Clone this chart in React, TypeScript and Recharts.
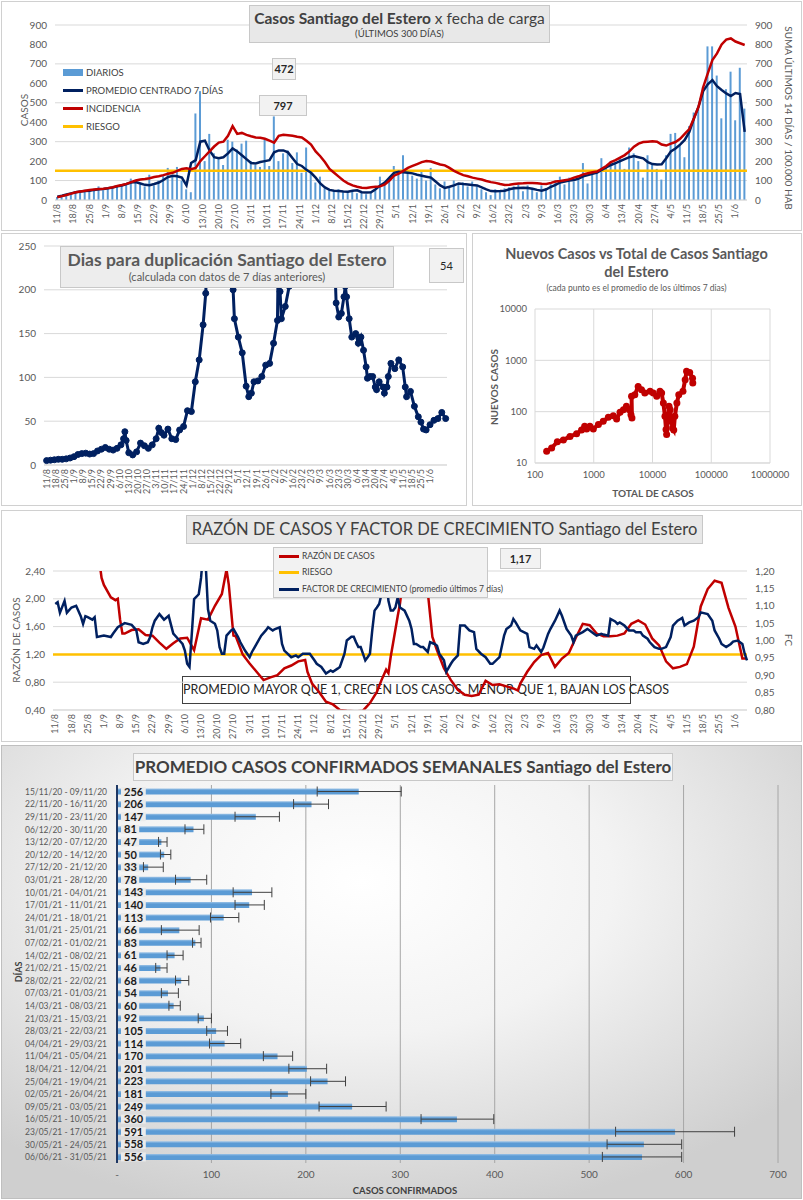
import React from 'react';
import {
  ComposedChart,
  LineChart,
  ScatterChart,
  BarChart,
  Bar,
  Line,
  Scatter,
  XAxis,
  YAxis,
  CartesianGrid,
  ReferenceLine,
  ErrorBar,
  LabelList,
} from 'recharts';

const FONT = 'Lato, "Open Sans", sans-serif';
const NAVY = '#002060';
const RED = '#C00000';
const YELLOW = '#FFC000';
const BLUE = '#5B9BD5';
const GRID = '#D9D9D9';
const TXT = '#595959';

// weekly tick labels shared by the three time charts (day 0 = 11/8)
const weekLabels = ['11/8', '18/8', '25/8', '1/9', '8/9', '15/9', '22/9', '29/9', '6/10', '13/10', '20/10', '27/10', '3/11', '10/11', '17/11', '24/11', '1/12', '8/12', '15/12', '22/12', '29/12', '5/1', '12/1', '19/1', '26/1', '2/2', '9/2', '16/2', '23/2', '2/3', '9/3', '16/3', '23/3', '30/3', '6/4', '13/4', '20/4', '27/4', '4/5', '11/5', '18/5', '25/5', '1/6'];
const weekTicks = weekLabels.map((_, i) => i * 7);

// top chart, one reading every 2 days from 11/8
const diarios = [
  15, 20, 25, 35, 40, 45, 50, 45, 55, 70,
  50, 65, 60, 75, 80, 85, 110, 95, 80, 70,
  130, 75, 100, 130, 165, 120, 170, 100, 55, 40,
  445, 560, 200, 340, 240, 210, 180, 310, 300, 260,
  290, 305, 200, 180, 170, 310, 175, 430, 200, 240,
  255, 190, 245, 140, 270, 145, 90, 120, 60, 50,
  45, 55, 40, 45, 50, 35, 40, 30, 45, 50,
  120, 95, 110, 175, 150, 230, 140, 125, 110, 150,
  100, 165, 80, 60, 95, 70, 100, 85, 90, 70,
  95, 70, 55, 40, 25, 55, 50, 60, 65, 70,
  80, 45, 75, 60, 40, 75, 60, 90, 100, 120,
  80, 115, 95, 110, 190, 85, 145, 150, 215, 170,
  200, 185, 220, 160, 270, 240, 200, 115, 230, 180,
  160, 105, 230, 340, 345, 280, 220, 380, 450, 470,
  580, 790, 790, 640, 420, 570, 660, 410, 680, 470,
];
const promedio7 = [
  17, 22, 28, 34, 40, 44, 46, 48, 52, 55,
  57, 60, 64, 70, 75, 82, 90, 92, 85, 78,
  76, 82, 90, 103, 118, 125, 122, 115, 75, 190,
  205, 300, 305, 255, 220, 215, 220, 240, 265, 250,
  230, 210, 190, 188, 195, 200, 205, 245, 255, 255,
  245, 215, 185, 175, 155, 140, 115, 85, 65, 52,
  48, 46, 44, 43, 48, 50, 40, 38, 40, 55,
  75, 90, 115, 140, 145, 143, 140, 137, 130, 125,
  120, 115, 95, 75, 62, 68, 75, 85, 82, 80,
  77, 75, 65, 55, 46, 45, 46, 48, 55, 60,
  62, 63, 62, 58, 52, 48, 55, 68, 78, 90,
  95, 100, 103, 110, 122, 128, 135, 141, 155, 168,
  180, 190, 200, 210, 220, 226, 220, 214, 195, 185,
  182, 184, 215, 250, 265, 285, 309, 350, 420, 480,
  560, 595, 617, 585, 566, 548, 535, 550, 545, 350,
];
const incidencia = [
  14, 20, 26, 33, 40, 44, 48, 51, 54, 56,
  58, 61, 66, 72, 77, 83, 92, 100, 105, 108,
  112, 118, 122, 128, 135, 140, 150, 160, 163, 158,
  165, 200, 225, 250, 275, 295, 300, 330, 380, 340,
  345, 335, 328, 322, 320, 315, 305, 295, 330, 335,
  333, 330, 325, 322, 305, 285, 250, 225, 195, 160,
  140, 120, 100, 86, 75, 68, 63, 62, 65, 68,
  70, 80, 100, 125, 135, 150, 165, 175, 185, 195,
  200, 198, 190, 183, 178, 165, 150, 138, 128, 122,
  115, 110, 105, 98, 92, 88, 82, 77, 78, 82,
  85, 86, 88, 88, 86, 83, 82, 88, 95, 98,
  102, 106, 115, 122, 132, 138, 143, 146, 160, 175,
  195, 205, 218, 231, 250, 274, 290, 298, 300, 302,
  300, 285, 280, 290, 298, 315, 340, 365, 420, 480,
  580, 651, 720, 754, 800, 825, 831, 815, 806, 797,
];

// doubling days
const dupDays = [0, 3, 6, 9, 12, 15, 18, 21, 24, 27, 30, 33, 36, 39, 42, 45, 48, 51, 54, 57, 59, 60, 61, 63, 66, 69, 72, 75, 78, 81, 84, 86, 88, 90, 93, 96, 99, 102, 105, 108, 111, 114, 117, 120, 122, 124, 128, 134, 140, 143, 144, 147, 150, 153, 155, 157, 159, 162, 165, 168, 171, 174, 177, 178, 179, 180, 183, 186, 188, 195, 205, 215, 220, 222, 224, 226, 228, 229, 230, 232, 234, 237, 239, 241, 243, 245, 246, 248, 250, 252, 253, 255, 258, 259, 261, 262, 264, 267, 270, 273, 275, 276, 279, 282, 285, 287, 289, 291, 294, 297, 300, 303, 306];
const dupValues = [5, 5.5, 6, 6.5, 6.5, 7, 8, 9.5, 12, 13, 13.5, 12.5, 13, 16, 18, 20, 18, 17, 19, 23, 30, 38, 28, 14, 11.5, 15, 25, 22, 19, 23, 30, 42, 37, 34, 41, 30, 29, 40, 44, 62, 61, 95, 120, 160, 196, 270, 330, 380, 300, 200, 167, 146, 128, 90, 78, 82, 95, 96, 101, 114, 116, 139, 165, 280, 198, 167, 181, 204, 280, 340, 380, 320, 270, 185, 169, 173, 192, 204, 192, 167, 146, 150, 139, 146, 131, 112, 99, 101, 101, 89, 86, 95, 89, 82, 89, 101, 116, 110, 120, 112, 89, 78, 84, 67, 55, 49, 41, 40, 46, 51, 53, 60, 53];

// ratio chart
const razonDays = [0, 6, 12, 18, 20, 21, 24, 26, 27, 28, 29, 30, 33, 36, 39, 42, 45, 48, 51, 54, 57, 60, 63, 66, 69, 72, 74, 75, 77, 78, 81, 84, 87, 90, 93, 96, 99, 102, 105, 108, 109, 111, 114, 117, 120, 123, 126, 130, 133, 136, 139, 141, 143, 144, 145, 146, 148, 149, 150, 152, 157, 160, 161, 163, 165, 168, 171, 174, 177, 180, 183, 186, 189, 192, 195, 198, 200, 201, 204, 207, 210, 213, 216, 219, 222, 225, 228, 231, 234, 237, 240, 243, 246, 249, 252, 255, 258, 261, 264, 267, 270, 273, 276, 279, 282, 285, 288, 291, 294, 297, 299];
const razonValues = [3.0, 3.0, 3.0, 2.8, 2.3, 2.2, 2.02, 1.98, 2.0, 1.7, 1.5, 1.5, 1.55, 1.56, 1.48, 1.47, 1.37, 1.28, 1.36, 1.43, 1.44, 1.26, 1.72, 1.7, 1.9, 2.07, 2.42, 2.2, 1.47, 1.46, 1.2, 1.07, 0.95, 0.83, 0.87, 0.9, 1.0, 1.04, 1.1, 1.12, 0.95, 0.78, 0.66, 0.52, 0.48, 0.4, 0.39, 0.38, 0.39, 0.5, 0.66, 0.83, 0.98, 0.93, 1.17, 1.36, 1.75, 1.93, 2.2, 2.8, 3.0, 2.6, 2.1, 1.45, 1.26, 1.0, 0.83, 0.69, 0.62, 0.6, 0.62, 0.82, 0.76, 0.77, 0.74, 0.71, 0.68, 0.78, 0.95, 1.09, 1.19, 1.22, 1.02, 1.14, 1.22, 1.44, 1.64, 1.62, 1.5, 1.46, 1.46, 1.47, 1.5, 1.64, 1.69, 1.63, 1.43, 1.33, 1.1, 1.0, 1.02, 1.06, 1.31, 1.89, 2.14, 2.26, 2.23, 1.87, 1.6, 1.14, 1.14];
const fcDays = [0, 1, 2, 4, 5, 7, 9, 11, 12, 13, 14, 16, 17, 18, 21, 24, 25, 27, 30, 33, 35, 36, 38, 40, 41, 42, 43, 45, 47, 49, 51, 53, 55, 56, 57, 58, 59, 60, 62, 63, 64, 65, 66, 67, 69, 70, 71, 72, 73, 74, 76, 77, 79, 80, 82, 84, 85, 87, 89, 91, 92, 94, 95, 97, 98, 99, 102, 104, 105, 107, 110, 112, 113, 115, 117, 119, 120, 122, 123, 125, 126, 128, 129, 130, 131, 132, 134, 135, 136, 137, 138, 139, 140, 141, 143, 144, 145, 146, 147, 148, 149, 151, 153, 154, 155, 156, 158, 159, 161, 162, 164, 165, 166, 168, 169, 171, 172, 174, 175, 177, 179, 181, 182, 184, 186, 188, 189, 192, 194, 195, 197, 198, 199, 201, 204, 205, 207, 208, 210, 211, 213, 214, 216, 218, 219, 221, 223, 224, 225, 228, 230, 231, 233, 234, 236, 237, 239, 240, 242, 243, 244, 246, 248, 250, 251, 253, 254, 256, 257, 259, 261, 262, 264, 266, 267, 269, 271, 272, 274, 276, 278, 279, 282, 284, 285, 287, 288, 290, 292, 293, 295, 297, 298, 299];
const fcValues = [1.105, 1.11, 1.08, 1.114, 1.08, 1.095, 1.1, 1.07, 1.048, 1.07, 1.067, 1.06, 1.067, 1.01, 1.014, 1.01, 1.02, 1.038, 1.05, 1.045, 1.03, 0.995, 0.99, 0.995, 1.01, 1.038, 1.057, 1.076, 1.06, 1.071, 1.02, 1.005, 0.99, 0.971, 0.933, 0.924, 1.019, 1.119, 1.133, 1.18, 1.26, 1.22, 1.09, 1.057, 1.048, 1.029, 0.981, 0.962, 0.962, 1.014, 1.029, 1.033, 1.01, 0.995, 0.971, 0.952, 0.967, 0.99, 1.014, 1.029, 1.038, 1.029, 1.033, 1.038, 0.99, 0.971, 0.952, 0.957, 0.952, 0.962, 0.962, 0.943, 0.933, 0.924, 0.905, 0.914, 0.91, 0.919, 0.924, 0.962, 1.0, 1.011, 1.011, 0.995, 0.981, 0.981, 0.943, 0.952, 0.962, 1.029, 1.086, 1.095, 1.105, 1.133, 1.19, 1.114, 1.086, 1.086, 1.095, 1.124, 1.095, 1.086, 1.057, 1.033, 0.99, 0.99, 0.981, 0.981, 0.967, 0.995, 0.99, 0.985, 0.962, 0.943, 0.91, 0.933, 0.943, 0.957, 1.043, 1.043, 1.029, 1.024, 0.976, 0.962, 0.952, 0.933, 0.933, 0.952, 1.014, 1.033, 1.043, 1.062, 1.052, 1.029, 1.019, 0.981, 0.976, 0.986, 0.967, 0.98, 1.019, 1.033, 1.057, 1.086, 1.071, 1.033, 1.014, 0.995, 1.014, 1.024, 1.033, 1.029, 1.019, 1.014, 1.019, 1.017, 1.014, 1.062, 1.055, 1.048, 1.052, 1.043, 1.029, 1.029, 1.024, 1.024, 1.014, 1.005, 0.995, 0.981, 0.976, 0.976, 0.981, 1.01, 1.043, 1.057, 1.065, 1.043, 1.052, 1.057, 1.067, 1.081, 1.076, 1.057, 1.029, 1.005, 0.99, 0.981, 0.99, 0.997, 1.0, 0.99, 0.962, 0.943];

// scatter: total cases vs new cases (7 day average)
const scatterTotal = [158, 192, 240, 304, 394, 511, 620, 700, 757, 860, 983, 1200, 1450, 1770, 2150, 2450, 2800, 3200, 3600, 4040, 4300, 4470, 4400, 5000, 5700, 6500, 7400, 9100, 10300, 11800, 13400, 14300, 15300, 16300, 17000, 17400, 18500, 19100, 20000, 21000, 22000, 23000, 24000, 26000, 28000, 33000, 36000, 38000, 43000, 48000, 48500];
const scatterNuevos = [17, 19.6, 26, 28, 33, 37, 44, 52, 46, 52, 46, 56, 65, 78, 83, 72, 97, 109, 127, 109, 87, 75, 200, 214, 310, 268, 230, 250, 230, 200, 250, 230, 147, 81, 45, 36, 81, 127, 109, 65, 48, 44, 81, 147, 214, 250, 420, 610, 580, 450, 360];

// weekly averages
const weekRanges = ['15/11/20 - 09/11/20', '22/11/20 - 16/11/20', '29/11/20 - 23/11/20', '06/12/20 - 30/11/20', '13/12/20 - 07/12/20', '20/12/20 - 14/12/20', '27/12/20 - 21/12/20', '03/01/21 - 28/12/20', '10/01/21 - 04/01/21', '17/01/21 - 11/01/21', '24/01/21 - 18/01/21', '31/01/21 - 25/01/21', '07/02/21 - 01/02/21', '14/02/21 - 08/02/21', '21/02/21 - 15/02/21', '28/02/21 - 22/02/21', '07/03/21 - 01/03/21', '14/03/21 - 08/03/21', '21/03/21 - 15/03/21', '28/03/21 - 22/03/21', '04/04/21 - 29/03/21', '11/04/21 - 05/04/21', '18/04/21 - 12/04/21', '25/04/21 - 19/04/21', '02/05/21 - 26/04/21', '09/05/21 - 03/05/21', '16/05/21 - 10/05/21', '23/05/21 - 17/05/21', '30/05/21 - 24/05/21', '06/06/21 - 31/05/21'];
const weekAvg = [256, 206, 147, 81, 47, 50, 33, 78, 143, 140, 113, 66, 83, 61, 46, 68, 54, 60, 92, 105, 114, 170, 201, 223, 181, 249, 360, 591, 558, 556];
const weekErrLow = [44, 19, 22, 9, 3, 4, 5, 16, 20, 15, 14, 19, 3, 8, 5, 6, 7, 5, 6, 10, 16, 15, 19, 18, 18, 35, 38, 63, 39, 42];
const weekErrHigh = [45, 18, 25, 11, 6, 7, 16, 17, 21, 16, 16, 21, 6, 9, 7, 8, 11, 7, 8, 12, 17, 16, 21, 19, 19, 36, 39, 63, 40, 42];

const topData = diarios.map((v, i) => ({ day: i * 2, diarios: v, promedio: promedio7[i], incidencia: incidencia[i] }));
const dupData = dupDays.map((d, i) => ({ day: d, v: dupValues[i] }));
const razonData = razonDays.map((d, i) => ({ day: d, v: razonValues[i] }));
const fcData = fcDays.map((d, i) => ({ day: d, v: fcValues[i] }));
const scatterData = scatterTotal.map((t, i) => ({ x: t, y: scatterNuevos[i] }));
const weekData = weekRanges.map((r, i) => ({ label: r, avg: weekAvg[i], err: [weekErrLow[i], weekErrHigh[i]] }));

const comma = (v: number) => v.toFixed(2).replace('.', ',');

const DateTick = (props: any) => {
  const { x, y, payload } = props;
  const label = weekLabels[Math.round(payload.value / 7)];
  return (
    <text transform={`translate(${x + 3},${y}) rotate(-90)`} textAnchor="end" fontSize={9} fill={TXT} fontFamily={FONT}>
      {label}
    </text>
  );
};

const CatTick = (props: any) => {
  const { x, y, payload } = props;
  return (
    <text x={x - 2} y={y} dy={3.5} textAnchor="end" fontSize={9.5} fill={TXT} fontFamily={FONT} textLength={82} lengthAdjust="spacingAndGlyphs">
      {payload.value}
    </text>
  );
};

const ValueLabel = (props: any) => {
  const { x, y, height, value } = props;
  const txt = String(value);
  const w = txt.length * 6.6 + 5;
  return (
    <g>
      <rect x={x + 4} y={y - 1.5} width={w} height={height + 3} fill="#EBEBEB" />
      <text x={x + 7} y={y + height / 2 + 4} fontSize={11} fontWeight={700} fill="#1a1a1a" fontFamily={FONT}>
        {txt}
      </text>
    </g>
  );
};

const Abs = ({ x, y, w, h, style, children }: any) => (
  <div style={{ position: 'absolute', left: x, top: y, width: w, height: h, boxSizing: 'border-box', fontFamily: FONT, ...style }}>
    {children}
  </div>
);

const Rot = ({ cx, cy, deg = -90, style, children }: any) => (
  <div style={{ position: 'absolute', left: cx, top: cy, transform: `translate(-50%,-50%) rotate(${deg}deg)`, whiteSpace: 'nowrap', fontFamily: FONT, ...style }}>
    {children}
  </div>
);

const LegendRow = ({ x, y, color, thick, text, size = 9.5 }: any) => (
  <div style={{ position: 'absolute', left: x, top: y - 7, height: 14, display: 'flex', alignItems: 'center', fontFamily: FONT, fontSize: size, color: '#404040', whiteSpace: 'nowrap' }}>
    <span style={{ display: 'inline-block', width: 20, height: thick, background: color, marginRight: 3 }} />
    {text}
  </div>
);

const panelBorder = '1px solid #D0D0D0';
const tickStyle = { fontSize: 10, fill: TXT, fontFamily: FONT };

export default function App() {
  return (
    <div style={{ position: 'absolute', left: 0, top: 0, width: 803, height: 1200, background: '#fff', overflow: 'hidden', fontFamily: FONT }}>
      {/* panel 1: casos diarios */}
      <Abs x={1} y={1} w={801} h={230} style={{ border: panelBorder }} />
      <div style={{ position: 'absolute', left: 0, top: 0 }}>
        <ComposedChart width={803} height={231} data={topData} margin={{ top: 25, right: 0, bottom: 0, left: 0 }}>
          <CartesianGrid vertical={false} stroke={GRID} yAxisId="l" />
          <XAxis dataKey="day" type="number" domain={[-1, 299]} ticks={weekTicks} interval={0} tick={<DateTick />} tickSize={2} height={31} tickLine={false} axisLine={{ stroke: GRID }} />
          <YAxis yAxisId="l" domain={[0, 900]} ticks={[0, 100, 200, 300, 400, 500, 600, 700, 800, 900]} width={55} axisLine={false} tickLine={false} tick={tickStyle} />
          <YAxis yAxisId="r" orientation="right" domain={[0, 900]} ticks={[0, 100, 200, 300, 400, 500, 600, 700, 800, 900]} width={56} axisLine={false} tickLine={false} tick={tickStyle} />
          <Bar yAxisId="l" dataKey="diarios" fill={BLUE} barSize={2} isAnimationActive={false} />
          <ReferenceLine yAxisId="l" y={150} stroke={YELLOW} strokeWidth={2.5} />
          <Line yAxisId="l" dataKey="promedio" stroke={NAVY} strokeWidth={2.5} dot={false} isAnimationActive={false} />
          <Line yAxisId="r" dataKey="incidencia" stroke={RED} strokeWidth={2.5} dot={false} isAnimationActive={false} />
        </ComposedChart>
      </div>
      <Abs x={249} y={5} w={301} h={38} style={{ background: '#E8E8E8', border: '1px solid #C8C8C8', textAlign: 'center', color: '#404040' }}>
        <div style={{ fontSize: 15.5, marginTop: 3, whiteSpace: 'nowrap' }}>
          <b>Casos Santiago del Estero</b> x fecha de carga
        </div>
        <div style={{ fontSize: 9.5, marginTop: 1 }}>(ÚLTIMOS 300 DÍAS)</div>
      </Abs>
      <LegendRow x={63} y={72} color={BLUE} thick={7} text="DIARIOS" />
      <LegendRow x={63} y={90} color={NAVY} thick={3} text="PROMEDIO CENTRADO 7 DÍAS" />
      <LegendRow x={63} y={108} color={RED} thick={3} text="INCIDENCIA" />
      <LegendRow x={63} y={126} color={YELLOW} thick={3} text="RIESGO" />
      <Abs x={272} y={58} w={24} h={22} style={{ background: '#F2F2F2', border: '1px solid #C8C8C8', fontSize: 11, fontWeight: 700, textAlign: 'center', lineHeight: '20px', color: '#262626' }}>472</Abs>
      <Abs x={259} y={95} w={48} h={21} style={{ background: '#F2F2F2', border: '1px solid #C8C8C8', fontSize: 11, fontWeight: 700, textAlign: 'center', lineHeight: '19px', color: '#262626' }}>797</Abs>
      <Rot cx={24} cy={110} style={{ fontSize: 10, color: TXT }}>CASOS</Rot>
      <Rot cx={789} cy={118} deg={90} style={{ fontSize: 10, color: TXT }}>SUMA  ÚLTIMOS 14 DÍAS / 100.000 HAB</Rot>

      {/* panel 2: dias para duplicacion */}
      <Abs x={1} y={233} w={466} h={273} style={{ border: panelBorder }} />
      <div style={{ position: 'absolute', left: 0, top: 232 }}>
        <LineChart width={467} height={274} margin={{ top: 14, right: 20, bottom: 0, left: 0 }}>
          <CartesianGrid vertical={false} stroke={GRID} />
          <XAxis dataKey="day" type="number" domain={[-2, 307]} ticks={weekTicks} interval={0} tick={<DateTick />} tickSize={2} height={41} tickLine={false} axisLine={{ stroke: GRID }} allowDuplicatedCategory={false} />
          <YAxis domain={[0, 250]} ticks={[0, 50, 100, 150, 200, 250]} width={44} axisLine={false} tickLine={false} tick={tickStyle} allowDataOverflow />
          <Line data={dupData} dataKey="v" stroke={NAVY} strokeWidth={3} dot={{ r: 3, fill: NAVY, stroke: NAVY, strokeWidth: 1 }} isAnimationActive={false} />
        </LineChart>
      </div>
      <Abs x={60} y={246} w={334} h={42} style={{ background: '#EDEDED', border: '1px solid #C8C8C8', textAlign: 'center', color: '#595959' }}>
        <div style={{ fontSize: 17.5, fontWeight: 700, marginTop: 2, whiteSpace: 'nowrap' }}>Dias para duplicación Santiago del Estero</div>
        <div style={{ fontSize: 11, marginTop: 0 }}>(calculada con datos de 7 días anteriores)</div>
      </Abs>
      <Abs x={429} y={248} w={35} h={35} style={{ background: '#F2F2F2', border: '1px solid #C8C8C8', fontSize: 11, textAlign: 'center', lineHeight: '33px', color: '#262626' }}>54</Abs>

      {/* panel 3: nuevos vs total */}
      <Abs x={472} y={233} w={330} h={273} style={{ border: panelBorder }} />
      <div style={{ position: 'absolute', left: 470, top: 232 }}>
        <ScatterChart width={333} height={274} margin={{ top: 77, right: 33, bottom: 0, left: 0 }}>
          <CartesianGrid stroke={GRID} />
          <XAxis dataKey="x" type="number" scale="log" domain={[100, 1000000]} ticks={[100, 1000, 10000, 100000, 1000000]} interval={0} height={43} tickLine={false} axisLine={{ stroke: GRID }} tick={{ fontSize: 9.5, fill: TXT, fontFamily: FONT }} allowDataOverflow />
          <YAxis dataKey="y" type="number" scale="log" domain={[10, 10000]} ticks={[10, 100, 1000, 10000]} interval={0} width={65} tickLine={false} axisLine={false} tick={{ fontSize: 9.5, fill: TXT, fontFamily: FONT }} allowDataOverflow />
          <Scatter data={scatterData} fill={RED} line={{ stroke: RED, strokeWidth: 4 }} shape={(p: any) => <circle cx={p.cx} cy={p.cy} r={3.5} fill={RED} />} isAnimationActive={false} />
        </ScatterChart>
      </div>
      <Abs x={470} y={245} w={333} h={60} style={{ textAlign: 'center', color: '#595959' }}>
        <div style={{ fontSize: 14.5, fontWeight: 700, lineHeight: '18px' }}>Nuevos Casos vs Total de Casos Santiago</div>
        <div style={{ fontSize: 14.5, fontWeight: 700, lineHeight: '18px' }}>del Estero</div>
        <div style={{ fontSize: 8.5, lineHeight: '12px', marginTop: 1 }}>(cada punto es el promedio de los últimos 7 dias)</div>
      </Abs>
      <Rot cx={494} cy={387} style={{ fontSize: 10, fontWeight: 700, color: TXT }}>NUEVOS  CASOS</Rot>
      <Rot cx={653} cy={493} deg={0} style={{ fontSize: 10, fontWeight: 700, color: TXT }}>TOTAL DE CASOS</Rot>

      {/* panel 4: razon de casos y factor de crecimiento */}
      <Abs x={1} y={510} w={801} h={232} style={{ border: panelBorder }} />
      <Abs x={182} y={676} w={449} h={28} style={{ background: '#fff', border: '1px solid #404040', fontSize: 12.5, textAlign: 'center', lineHeight: '26px', color: '#262626', whiteSpace: 'nowrap' }}>
        PROMEDIO MAYOR QUE 1, CRECEN LOS CASOS, MENOR QUE 1, BAJAN LOS CASOS
      </Abs>
      <div style={{ position: 'absolute', left: 0, top: 510 }}>
        <LineChart width={803} height={232} margin={{ top: 61, right: 0, bottom: 0, left: 0 }}>
          <CartesianGrid vertical={false} stroke={GRID} yAxisId="l" />
          <XAxis dataKey="day" type="number" domain={[-1, 299]} ticks={weekTicks} interval={0} tick={<DateTick />} tickSize={2} height={32} tickLine={false} axisLine={{ stroke: GRID }} allowDuplicatedCategory={false} />
          <YAxis yAxisId="l" domain={[0.4, 2.4]} ticks={[0.4, 0.6, 0.8, 1.0, 1.2, 1.4, 1.6, 1.8, 2.0, 2.2, 2.4]} tickFormatter={comma} width={53} axisLine={false} tickLine={false} tick={tickStyle} allowDataOverflow />
          <YAxis yAxisId="r" orientation="right" domain={[0.8, 1.2]} ticks={[0.8, 0.85, 0.9, 0.95, 1.0, 1.05, 1.1, 1.15, 1.2]} tickFormatter={comma} width={56} axisLine={false} tickLine={false} tick={tickStyle} allowDataOverflow />
          <ReferenceLine yAxisId="l" y={1.2} stroke={YELLOW} strokeWidth={2.5} />
          <Line yAxisId="l" data={razonData} dataKey="v" stroke={RED} strokeWidth={2.5} dot={false} isAnimationActive={false} />
          <Line yAxisId="r" data={fcData} dataKey="v" stroke={NAVY} strokeWidth={2.5} dot={false} isAnimationActive={false} />
        </LineChart>
      </div>
      <Abs x={186} y={515} w={517} h={29} style={{ background: '#E8E8E8', border: '1px solid #C8C8C8', textAlign: 'center', color: '#404040', fontSize: 16.5, lineHeight: '27px', whiteSpace: 'nowrap' }}>
        RAZÓN DE CASOS Y FACTOR DE CRECIMIENTO Santiago del Estero
      </Abs>
      <Abs x={273} y={547} w={215} h={51} style={{ background: '#F2F2F2', border: '1px solid #C8C8C8' }} />
      <LegendRow x={279} y={556} color={RED} thick={3} text="RAZÓN DE CASOS" size={8.5} />
      <LegendRow x={279} y={572} color={YELLOW} thick={3} text="RIESGO" size={8.5} />
      <LegendRow x={279} y={589} color={NAVY} thick={3} text="FACTOR DE CRECIMIENTO (promedio últimos 7 días)" size={8.5} />
      <Abs x={500} y={548} w={41} h={21} style={{ background: '#F2F2F2', border: '1px solid #C8C8C8', fontSize: 11, fontWeight: 700, textAlign: 'center', lineHeight: '19px', color: '#262626' }}>1,17</Abs>
      <Rot cx={16} cy={640} style={{ fontSize: 10, color: TXT }}>RAZÓN DE CASOS</Rot>
      <Rot cx={789} cy={640} deg={90} style={{ fontSize: 10, color: TXT }}>FC</Rot>

      {/* panel 5: promedio semanal */}
      <Abs x={1} y={745} w={801} h={454} style={{ border: '1px solid #BFBFBF', background: 'radial-gradient(ellipse 70% 75% at 45% 30%, #ffffff 0%, #f3f3f3 45%, #cfcfcf 100%)' }} />
      <div style={{ position: 'absolute', left: 0, top: 745 }}>
        <BarChart width={803} height={455} data={weekData} layout="vertical" margin={{ top: 40, right: 25, bottom: 0, left: 0 }} barCategoryGap="28%">
          <defs>
            <linearGradient id="barGrad" x1="0" y1="0" x2="0" y2="1">
              <stop offset="0%" stopColor="#9DC3E6" />
              <stop offset="35%" stopColor={BLUE} />
              <stop offset="100%" stopColor={BLUE} />
            </linearGradient>
          </defs>
          <CartesianGrid horizontal={false} stroke="#A6A6A6" />
          <XAxis type="number" domain={[0, 700]} ticks={[0, 100, 200, 300, 400, 500, 600, 700]} tickFormatter={(v: number) => (v === 0 ? '-' : String(v))} height={37} axisLine={false} tickLine={false} tick={{ fontSize: 10, fill: TXT, fontFamily: FONT }} />
          <YAxis type="category" dataKey="label" width={117} interval={0} tickLine={false} axisLine={{ stroke: '#1F3864', strokeWidth: 2 }} tick={<CatTick />} />
          <Bar dataKey="avg" fill="url(#barGrad)" isAnimationActive={false}>
            <ErrorBar dataKey="err" direction="x" width={5} stroke="#404040" strokeWidth={1} />
            <LabelList dataKey="avg" content={<ValueLabel />} />
          </Bar>
        </BarChart>
      </div>
      <Abs x={133} y={753} w={540} h={28} style={{ background: 'rgba(245,245,245,0.9)', border: '1px solid #C8C8C8', textAlign: 'center', color: '#404040', fontSize: 17, fontWeight: 700, lineHeight: '26px', whiteSpace: 'nowrap' }}>
        PROMEDIO CASOS CONFIRMADOS SEMANALES Santiago del Estero
      </Abs>
      <Rot cx={18} cy={972} style={{ fontSize: 9, fontWeight: 700, color: '#404040' }}>DÍAS</Rot>
      <Rot cx={405} cy={1190} deg={0} style={{ fontSize: 9.5, fontWeight: 700, color: '#404040' }}>CASOS CONFIRMADOS</Rot>
    </div>
  );
}
